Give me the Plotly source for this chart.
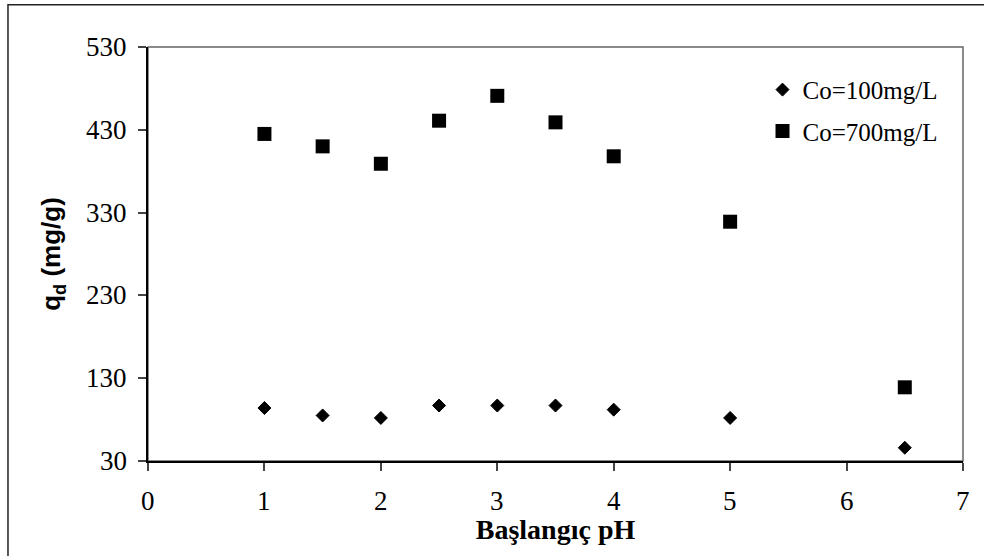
import plotly.graph_objects as go

# Initial pH values
ph = [1, 1.5, 2, 2.5, 3, 3.5, 4, 5, 6.5]

# Adsorbed amount q_d (mg/g) for two initial concentrations
q_100 = [94, 85, 82, 97, 97, 97, 92, 82, 46]
q_700 = [425, 410, 389, 441, 471, 439, 398, 319, 119]

x_ticks = [0, 1, 2, 3, 4, 5, 6, 7]
y_ticks = [30, 130, 230, 330, 430, 530]

serif = "Liberation Serif"
sans = "Liberation Sans"

fig = go.Figure()
fig.add_trace(go.Scatter(
    x=ph, y=q_100, mode="markers", name="Co=100mg/L", legendgroup="a",
    marker=dict(symbol="diamond", size=10, color="black",
                line=dict(color="black", width=1)),
))
fig.add_trace(go.Scatter(
    x=ph, y=q_700, mode="markers", name="Co=700mg/L", legendgroup="b",
    marker=dict(symbol="square", size=14, color="black", line=dict(width=0)),
))

# Tick labels placed as annotations at each tick value
tick_notes = []
for v in x_ticks:
    tick_notes.append(dict(
        x=v, y=0, xref="x", yref="paper", text=str(v), showarrow=False,
        xanchor="center", yanchor="middle", yshift=-40,
        font=dict(family=serif, size=27, color="black"),
    ))
for v in y_ticks:
    tick_notes.append(dict(
        x=0, y=v, xref="paper", yref="y", text=str(v), showarrow=False,
        xanchor="right", yanchor="middle", xshift=-19,
        font=dict(family=serif, size=27, color="black"),
    ))

fig.update_layout(
    width=984, height=556,
    margin=dict(l=148, r=21, t=47, b=95),
    paper_bgcolor="white", plot_bgcolor="white",
    font=dict(family=serif, size=22, color="black"),
    showlegend=True,
    legend=dict(x=0.754, y=0.952, xanchor="left", yanchor="top",
                font=dict(family=serif, size=25, color="black"),
                bgcolor="rgba(0,0,0,0)", tracegroupgap=6,
                itemwidth=30),
    annotations=tick_notes,
    shapes=[
        # outer chart border
        dict(type="rect", xref="paper", yref="paper",
             x0=-0.1718, x1=1.05, y0=-0.3, y1=1.102,
             line=dict(color="#222222", width=1.5), layer="below"),
        # plot area border
        dict(type="rect", xref="paper", yref="paper",
             x0=0, x1=1, y0=0, y1=1,
             line=dict(color="#666666", width=1.5), layer="below"),
    ],
)

fig.update_xaxes(
    range=[0, 7], tickmode="array", tickvals=x_ticks,
    showticklabels=False,
    showgrid=False, zeroline=False,
    showline=True, linecolor="black", linewidth=1.5,
    ticks="outside", ticklen=8, tickcolor="#444444", tickwidth=1.5,
    title=dict(text="<b>Başlangıç pH</b>", standoff=50,
               font=dict(family=serif, size=28, color="black")),
)
fig.update_yaxes(
    range=[30, 530], tickmode="array", tickvals=y_ticks,
    showticklabels=False,
    showgrid=False, zeroline=False,
    showline=True, linecolor="black", linewidth=1.5,
    ticks="outside", ticklen=8, tickcolor="#444444", tickwidth=1.5,
    title=dict(text="<b>q<sub>d</sub> (mg/g)</b>", standoff=70,
               font=dict(family=sans, size=26, color="black")),
)

fig.write_html("out.html")
